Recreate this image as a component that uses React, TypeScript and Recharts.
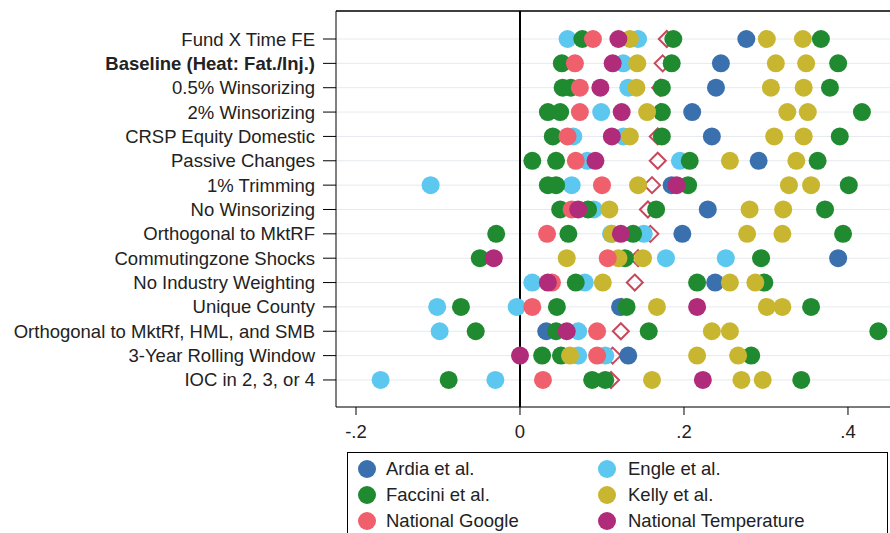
import {
  CartesianGrid,
  Legend,
  ReferenceLine,
  Scatter,
  ScatterChart,
  XAxis,
  YAxis,
} from "recharts"

const rowLabels = [
  "Fund X Time FE",
  "Baseline (Heat: Fat./Inj.)",
  "0.5% Winsorizing",
  "2% Winsorizing",
  "CRSP Equity Domestic",
  "Passive Changes",
  "1% Trimming",
  "No Winsorizing",
  "Orthogonal to MktRF",
  "Commutingzone Shocks",
  "No Industry Weighting",
  "Unique County",
  "Orthogonal to MktRf, HML, and SMB",
  "3-Year Rolling Window",
  "IOC in 2, 3, or 4",
]

// estimates per row, one list per measure
const ardia = [[0.276], [0.245], [0.239], [0.21], [0.234], [0.291], [0.185], [0.229], [0.198], [0.388], [0.238], [0.122], [0.032], [0.132], []]
const engle = [[0.058, 0.144], [0.126], [0.132], [0.099], [0.065, 0.126], [0.082, 0.195], [-0.109, 0.063], [0.09], [0.111, 0.151], [0.178, 0.251], [0.015, 0.079], [-0.101, -0.004], [-0.098, 0.071], [0.071, 0.104], [-0.17, -0.03]]
const faccini = [[0.076, 0.187, 0.367], [0.051, 0.185, 0.388], [0.052, 0.062, 0.173, 0.378], [0.034, 0.049, 0.173, 0.417], [0.04, 0.173, 0.39], [0.015, 0.044, 0.207, 0.363], [0.034, 0.044, 0.205, 0.401], [0.049, 0.083, 0.166, 0.372], [-0.029, 0.059, 0.138, 0.394], [-0.049, 0.128, 0.294], [0.068, 0.216, 0.298], [-0.072, 0.045, 0.13, 0.355], [-0.054, 0.044, 0.157, 0.437], [0.027, 0.05, 0.282], [-0.087, 0.088, 0.104, 0.343]]
const kelly = [[0.134, 0.301, 0.345], [0.143, 0.312, 0.349], [0.142, 0.306, 0.346], [0.155, 0.326, 0.351], [0.134, 0.31, 0.346], [0.256, 0.337], [0.144, 0.328, 0.355], [0.109, 0.28, 0.321], [0.112, 0.277, 0.32], [0.057, 0.12, 0.15], [0.101, 0.256, 0.287], [0.167, 0.301, 0.32], [0.234, 0.256], [0.061, 0.216, 0.266], [0.161, 0.27, 0.296]]
const nationalGoogle = [[0.089], [0.067], [0.073], [0.073], [0.058], [0.068], [0.1], [0.063], [0.033], [0.107], [0.039], [0.015], [0.094], [0.094], [0.028]]
const nationalTemp = [[0.12], [0.113], [0.098], [0.124], [0.112], [0.092], [0.191], [0.071], [0.123], [-0.032], [0.034], [0.216], [0.057], [0.0], [0.223]]
const average = [0.179, 0.174, 0.171, 0.171, 0.168, 0.168, 0.161, 0.156, 0.159, 0.144, 0.14, 0.124, 0.123, 0.113, 0.111]

const xTicks = [-0.2, 0, 0.2, 0.4]

const series = [
  { name: "Ardia et al.", rows: ardia, color: "#3a70ad" },
  { name: "Engle et al.", rows: engle, color: "#5cc7ef" },
  { name: "Faccini et al.", rows: faccini, color: "#1f8a30" },
  { name: "Kelly et al.", rows: kelly, color: "#c9b630" },
  { name: "National Google", rows: nationalGoogle, color: "#ef5f6c" },
  { name: "National Temperature", rows: nationalTemp, color: "#b02b79" },
]

const font = "'Liberation Sans', Arial, sans-serif"

const toPoints = (rows: number[][]) =>
  rows.flatMap((vals, i) => vals.map((v) => ({ x: v, y: i })))

const avgPoints = average.map((v, i) => ({ x: v, y: i }))

const fmtX = (v: number) => (v === 0 ? "0" : v.toFixed(1).replace("0.", "."))

function RowTick({ x, y, payload }: any) {
  const i = payload.value
  return (
    <text
      x={x}
      y={y}
      textAnchor="end"
      dominantBaseline="central"
      fontSize={18.5}
      fontFamily={font}
      fontWeight={i === 1 ? 700 : 400}
      fill="#222"
    >
      {rowLabels[i]}
    </text>
  )
}

function Dot(color: string) {
  return (props: any) => <circle cx={props.cx} cy={props.cy} r={9} fill={color} />
}

function Diamond(props: any) {
  const { cx, cy } = props
  const d = 8
  return (
    <polygon
      points={`${cx},${cy - d} ${cx + d},${cy} ${cx},${cy + d} ${cx - d},${cy}`}
      fill="none"
      stroke="#c8475a"
      strokeWidth={2}
    />
  )
}

function LegendBox() {
  return (
    <div
      style={{
        position: "relative",
        width: 541,
        height: 100,
        border: "1px solid #000",
        boxSizing: "border-box",
        background: "#fff",
        fontFamily: font,
        fontSize: 18.5,
        color: "#222",
      }}
    >
      {series.map((s, i) => {
        const col = i % 2
        const row = Math.floor(i / 2)
        return (
          <div
            key={s.name}
            style={{
              position: "absolute",
              left: col === 0 ? 10 : 250,
              top: 16 + row * 26 - 11,
              height: 22,
              display: "flex",
              alignItems: "center",
              whiteSpace: "nowrap",
            }}
          >
            <span
              style={{
                width: 18,
                height: 18,
                borderRadius: "50%",
                background: s.color,
                display: "inline-block",
                marginRight: col === 0 ? 10 : 12,
              }}
            />
            {s.name}
          </div>
        )
      })}
    </div>
  )
}

export default function App() {
  return (
    <div
      style={{
        position: "absolute",
        left: 0,
        top: 0,
        width: 890,
        height: 533,
        overflow: "hidden",
        background: "#fff",
      }}
    >
      <ScatterChart width={900} height={533} margin={{ top: 11, right: 7, bottom: 86, left: 0 }}>
        <CartesianGrid vertical={false} stroke="#e6eaee" />
        <XAxis
          type="number"
          dataKey="x"
          domain={[-0.2244, 0.4549]}
          allowDataOverflow
          ticks={xTicks}
          tickFormatter={fmtX}
          height={40}
          tickSize={8}
          tickMargin={10}
          stroke="#000"
          tick={{ fill: "#222", fontSize: 18.5, fontFamily: font }}
        />
        <YAxis
          type="number"
          dataKey="y"
          domain={[-1.15, 15.11]}
          reversed
          allowDataOverflow
          ticks={rowLabels.map((_, i) => i)}
          interval={0}
          width={336}
          tickSize={13}
          tickMargin={8}
          stroke="#000"
          tick={<RowTick />}
        />
        <ReferenceLine y={-1.15} stroke="#000" strokeWidth={1.5} />
        <ReferenceLine x={0} stroke="#000" strokeWidth={2} />
        <Scatter
          name="Average"
          data={avgPoints}
          shape={<Diamond />}
          legendType="none"
          isAnimationActive={false}
        />
        {series.map((s) => (
          <Scatter
            key={s.name}
            name={s.name}
            data={toPoints(s.rows)}
            fill={s.color}
            shape={Dot(s.color)}
            isAnimationActive={false}
          />
        ))}
        <Legend
          layout="horizontal"
          verticalAlign="middle"
          align="center"
          content={<LegendBox />}
          wrapperStyle={{ left: 347, top: 452, width: 541, height: 100 }}
        />
      </ScatterChart>
    </div>
  )
}
